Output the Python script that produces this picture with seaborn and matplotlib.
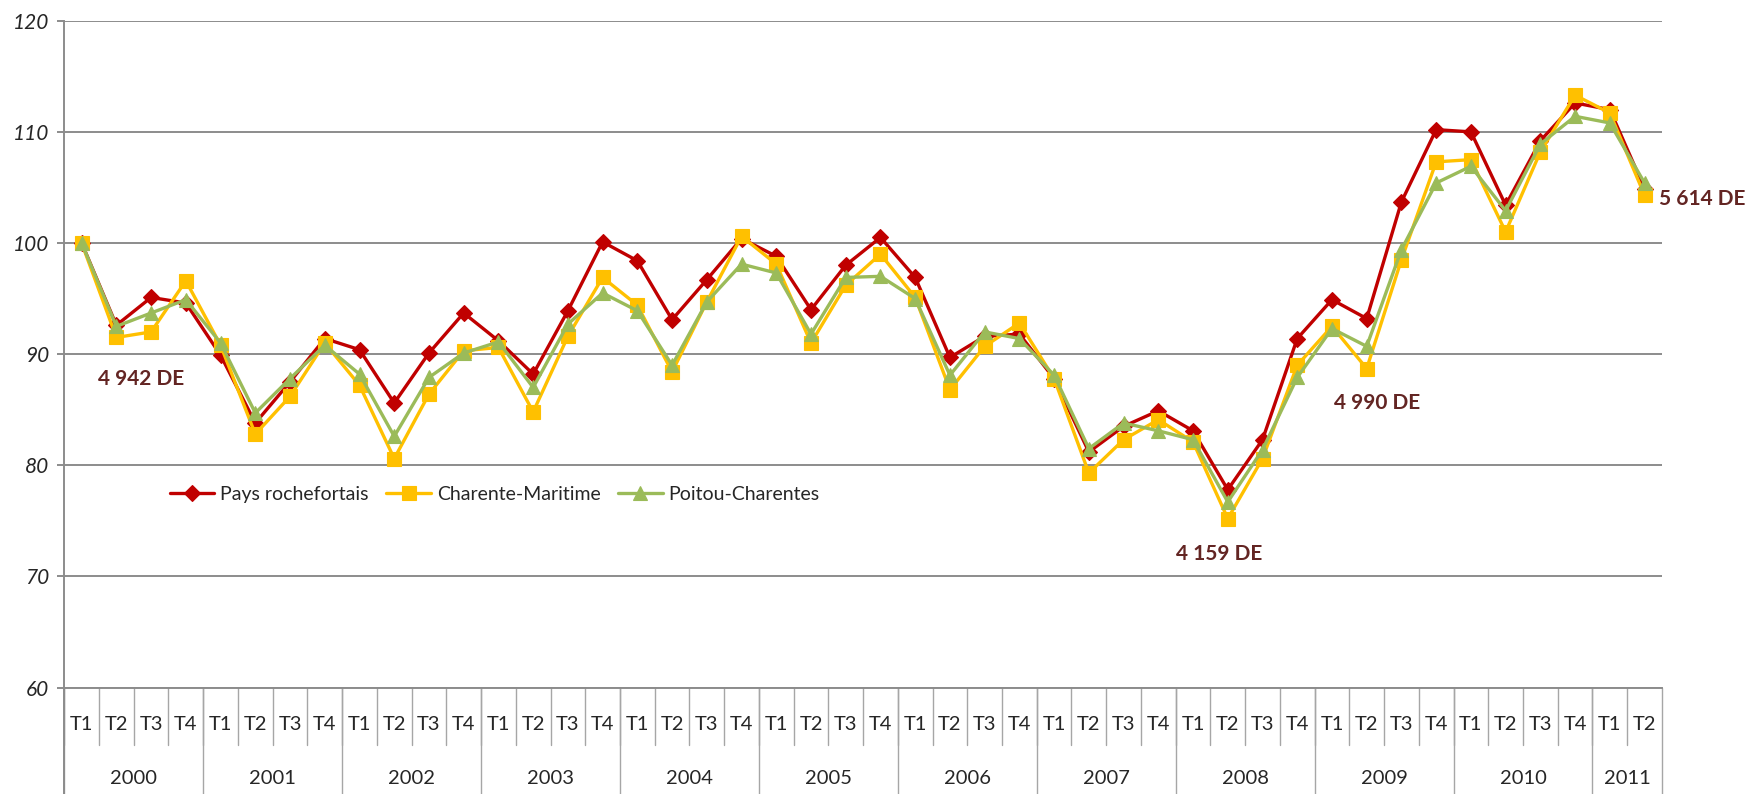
import matplotlib

matplotlib.use("agg")

import pandas as pd
import matplotlib.pyplot as plt
import matplotlib.transforms as mtransforms
import seaborn as sns

# Quarterly index (base 100 = 2000 T1)
quarters = ["T1", "T2", "T3", "T4"] * 11 + ["T1", "T2"]
years = ["2000", "2001", "2002", "2003", "2004", "2005", "2006",
         "2007", "2008", "2009", "2010", "2011"]
quarters_per_year = [4] * 11 + [2]

rochefortais = [100, 92.6, 95.1, 94.6, 89.9, 83.8, 87.5, 91.4, 90.4, 85.6, 90.1, 93.7,
                91.2, 88.2, 93.9, 100.1, 98.4, 93.1, 96.7, 100.4, 98.8, 94.0, 98.0, 100.5,
                96.9, 89.7, 91.6, 91.8, 87.8, 81.2, 83.5, 84.9, 83.1, 77.8, 82.3, 91.4,
                94.9, 93.2, 103.7, 110.2, 110.0, 103.4, 109.2, 112.6, 112.0, 104.9]
charente_maritime = [100, 91.5, 92.0, 96.6, 90.8, 82.8, 86.2, 91.0, 87.2, 80.6, 86.4, 90.3,
                     90.6, 84.8, 91.6, 96.9, 94.4, 88.4, 94.7, 100.6, 98.1, 91.0, 96.2, 99.0,
                     95.1, 86.8, 90.7, 92.8, 87.8, 79.3, 82.3, 84.1, 82.1, 75.2, 80.6, 89.0,
                     92.5, 88.7, 98.5, 107.3, 107.5, 101.0, 108.2, 113.3, 111.7, 104.3]
poitou_charentes = [100, 92.5, 93.7, 94.9, 91.0, 84.7, 87.8, 90.8, 88.2, 82.6, 87.9, 90.1,
                    91.1, 87.0, 92.7, 95.5, 93.9, 89.0, 94.7, 98.1, 97.3, 91.8, 96.9, 97.0,
                    95.0, 88.1, 92.0, 91.4, 88.1, 81.5, 83.8, 83.1, 82.3, 76.7, 81.4, 87.9,
                    92.3, 90.7, 99.4, 105.4, 106.9, 102.9, 108.9, 111.4, 110.8, 105.4]

# annotations: (text, x position in quarters, y value)
annot_text = ["4 942 DE", "4 990 DE", "4 159 DE", "5 614 DE"]
annot_x = [1.7, 37.3, 32.75, 46.65]
annot_y = [87.8, 85.6, 72.0, 104.0]

sns.set_style("white")
plt.rcParams["font.family"] = ["Lato", "DejaVu Sans"]

series = [
    ("Pays rochefortais", rochefortais, "#C00000", "D", 8),
    ("Charente-Maritime", charente_maritime, "#FFC000", "s", 9.5),
    ("Poitou-Charentes", poitou_charentes, "#9BBB59", "^", 10.5),
]

fig = plt.figure(figsize=(17.47, 7.94), dpi=100)
ax = fig.add_axes([0.0368, 0.1341, 0.9145, 0.8398])

x = list(range(len(quarters)))
for name, values, color, marker, ms in series:
    df = pd.DataFrame({"x": x, "v": values})
    sns.lineplot(data=df, x="x", y="v", ax=ax, color=color, marker=marker,
                 markersize=ms, markeredgecolor=color, markeredgewidth=0.8,
                 linewidth=2.4, label=name)

ax.set_xlim(-0.5, len(quarters) - 0.5)
ax.set_ylim(60, 120)
ax.set_yticks(range(60, 121, 10))
ax.set_yticklabels([str(v) for v in range(60, 121, 10)], fontstyle="italic", fontsize=15)
ax.set_xticks([])
ax.set_xlabel("")
ax.set_ylabel("")

grey = "#8c8c8c"
ax.yaxis.grid(True, color=grey, linewidth=1.4)
ax.tick_params(axis="y", direction="out", length=5, width=1.4, color=grey, pad=6,
               left=True)
for side in ["top", "right"]:
    ax.spines[side].set_visible(False)
for side in ["left", "bottom"]:
    ax.spines[side].set_color(grey)
    ax.spines[side].set_linewidth(1.4)

# two-level category axis
trans = mtransforms.blended_transform_factory(ax.transData, ax.transAxes)
sep = "#a6a6a6"
for i, q in enumerate(quarters):
    ax.text(i, -0.056, q, transform=trans, ha="center", va="center", fontsize=14.5)
    ax.plot([i - 0.5, i - 0.5], [0, -0.086], transform=trans, color=sep, lw=1,
            clip_on=False)
start = 0
for yr, n in zip(years, quarters_per_year):
    ax.plot([start - 0.5, start - 0.5], [0, -0.2], transform=trans, color=sep, lw=1,
            clip_on=False)
    ax.text(start + n / 2 - 0.5, -0.137, yr, transform=trans, ha="center", va="center",
            fontsize=14.5)
    start += n
ax.plot([start - 0.5, start - 0.5], [0, -0.2], transform=trans, color=sep, lw=1,
        clip_on=False)
ax.plot([-0.5, -0.5], [0, -0.2], transform=trans, color=grey, lw=1.4, clip_on=False)

for t, ax_x, ax_y in zip(annot_text, annot_x, annot_y):
    ax.text(ax_x, ax_y, t, ha="center", va="center", fontsize=15, fontweight="bold",
            color="#632523", clip_on=False)

ax.legend(loc="center left", bbox_to_anchor=(0.055, 0.29), ncol=3, frameon=False,
          fontsize=14, handlelength=2.3, columnspacing=0.9, handletextpad=0.3)

plt.savefig("out.png", dpi=100)
